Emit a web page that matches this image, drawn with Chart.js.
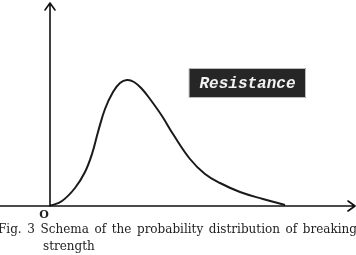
<!DOCTYPE html>
<html>
<head>
<meta charset="utf-8">
<script src="https://cdn.jsdelivr.net/npm/chart.js@4.4.0/dist/chart.umd.min.js"></script>
<style>
  html, body { margin: 0; padding: 0; background: #fff; overflow: hidden; }
  #wrap { position: relative; width: 356px; height: 255px; }
  #caption {
    position: absolute; left: -2px; top: 221px; width: 359px;
    font-family: "DejaVu Serif", serif; font-size: 12px;
    color: #222; line-height: 17px; white-space: nowrap;
  }
  #caption .l1 { text-align: justify; text-align-last: justify; white-space: normal; }
  #caption .l2 { padding-left: 45px; }
</style>
</head>
<body>
<div id="wrap">
  <canvas id="chart" width="356" height="255"></canvas>
  <div id="caption">
    <div class="l1">Fig. 3 Schema of the probability distribution of breaking</div>
    <div class="l2">strength</div>
  </div>
</div>
<script>
// curva de resistência (distância do eixo em unidades do gráfico)
const curveX = [0, 12, 25, 35, 42, 48, 55, 63, 70, 77, 84, 92, 100, 112, 123, 140, 155, 170, 190, 213, 235];
const curveY = [0, 5, 18, 34, 52, 74, 97, 114, 123, 126, 124, 117, 107, 90, 72, 47, 32, 23, 14, 7, 1];
const originLabel = 'O';
const seriesLabel = 'Resistance';

const points = curveX.map((x, i) => ({ x: x, y: curveY[i] }));

// desenha eixos com setas, rótulo da origem e caixa "Resistance"
const axesPlugin = {
    id: 'axesArrows',
    afterDraw(chart) {
        const ctx = chart.ctx;
        const xs = chart.scales.x;
        const ys = chart.scales.y;
        const ox = xs.getPixelForValue(0);
        const oy = ys.getPixelForValue(0);
        const right = chart.width - 1;
        const top = 3;

        ctx.save();
        ctx.strokeStyle = '#111';
        ctx.lineWidth = 1.6;
        ctx.lineCap = 'round';
        ctx.lineJoin = 'round';

        // eixo x
        ctx.beginPath();
        ctx.moveTo(0, oy);
        ctx.lineTo(right, oy);
        ctx.moveTo(right - 7, oy - 5);
        ctx.lineTo(right, oy);
        ctx.lineTo(right - 7, oy + 5);
        ctx.stroke();

        // eixo y
        ctx.beginPath();
        ctx.moveTo(ox, oy);
        ctx.lineTo(ox, top);
        ctx.moveTo(ox - 5, top + 7);
        ctx.lineTo(ox, top);
        ctx.lineTo(ox + 5, top + 7);
        ctx.stroke();

        // origem
        ctx.fillStyle = '#222';
        ctx.font = 'bold 11px "DejaVu Serif", serif';
        ctx.textAlign = 'center';
        ctx.textBaseline = 'middle';
        ctx.fillText(originLabel, ox - 6, oy + 9);

        // caixa de legenda
        const bx = xs.getPixelForValue(139);
        const by = ys.getPixelForValue(138);
        const bw = 117, bh = 30;
        ctx.fillStyle = '#262626';
        ctx.fillRect(bx, by, bw, bh);
        ctx.strokeStyle = '#bbb';
        ctx.lineWidth = 1;
        ctx.strokeRect(bx + 0.5, by + 0.5, bw - 1, bh - 1);
        ctx.fillStyle = '#f2f2f2';
        ctx.font = 'italic bold 16px "Liberation Mono", monospace';
        ctx.fillText(seriesLabel, bx + bw / 2, by + bh / 2 + 1);
        ctx.restore();
    }
};

new Chart(document.getElementById('chart'), {
    type: 'scatter',
    data: {
        datasets: [{
            label: seriesLabel,
            data: points,
            showLine: true,
            borderColor: '#1a1a1a',
            borderWidth: 2,
            pointRadius: 0,
            tension: 0.4,
            fill: false
        }]
    },
    options: {
        responsive: false,
        animation: false,
        layout: { padding: { left: 0, right: 0, top: 0, bottom: 49 } },
        plugins: {
            legend: { display: false },
            tooltip: { enabled: false }
        },
        scales: {
            x: { type: 'linear', min: -50, max: 306, display: false },
            y: { type: 'linear', min: 0, max: 206, display: false }
        }
    },
    plugins: [axesPlugin]
});
</script>
</body>
</html>
